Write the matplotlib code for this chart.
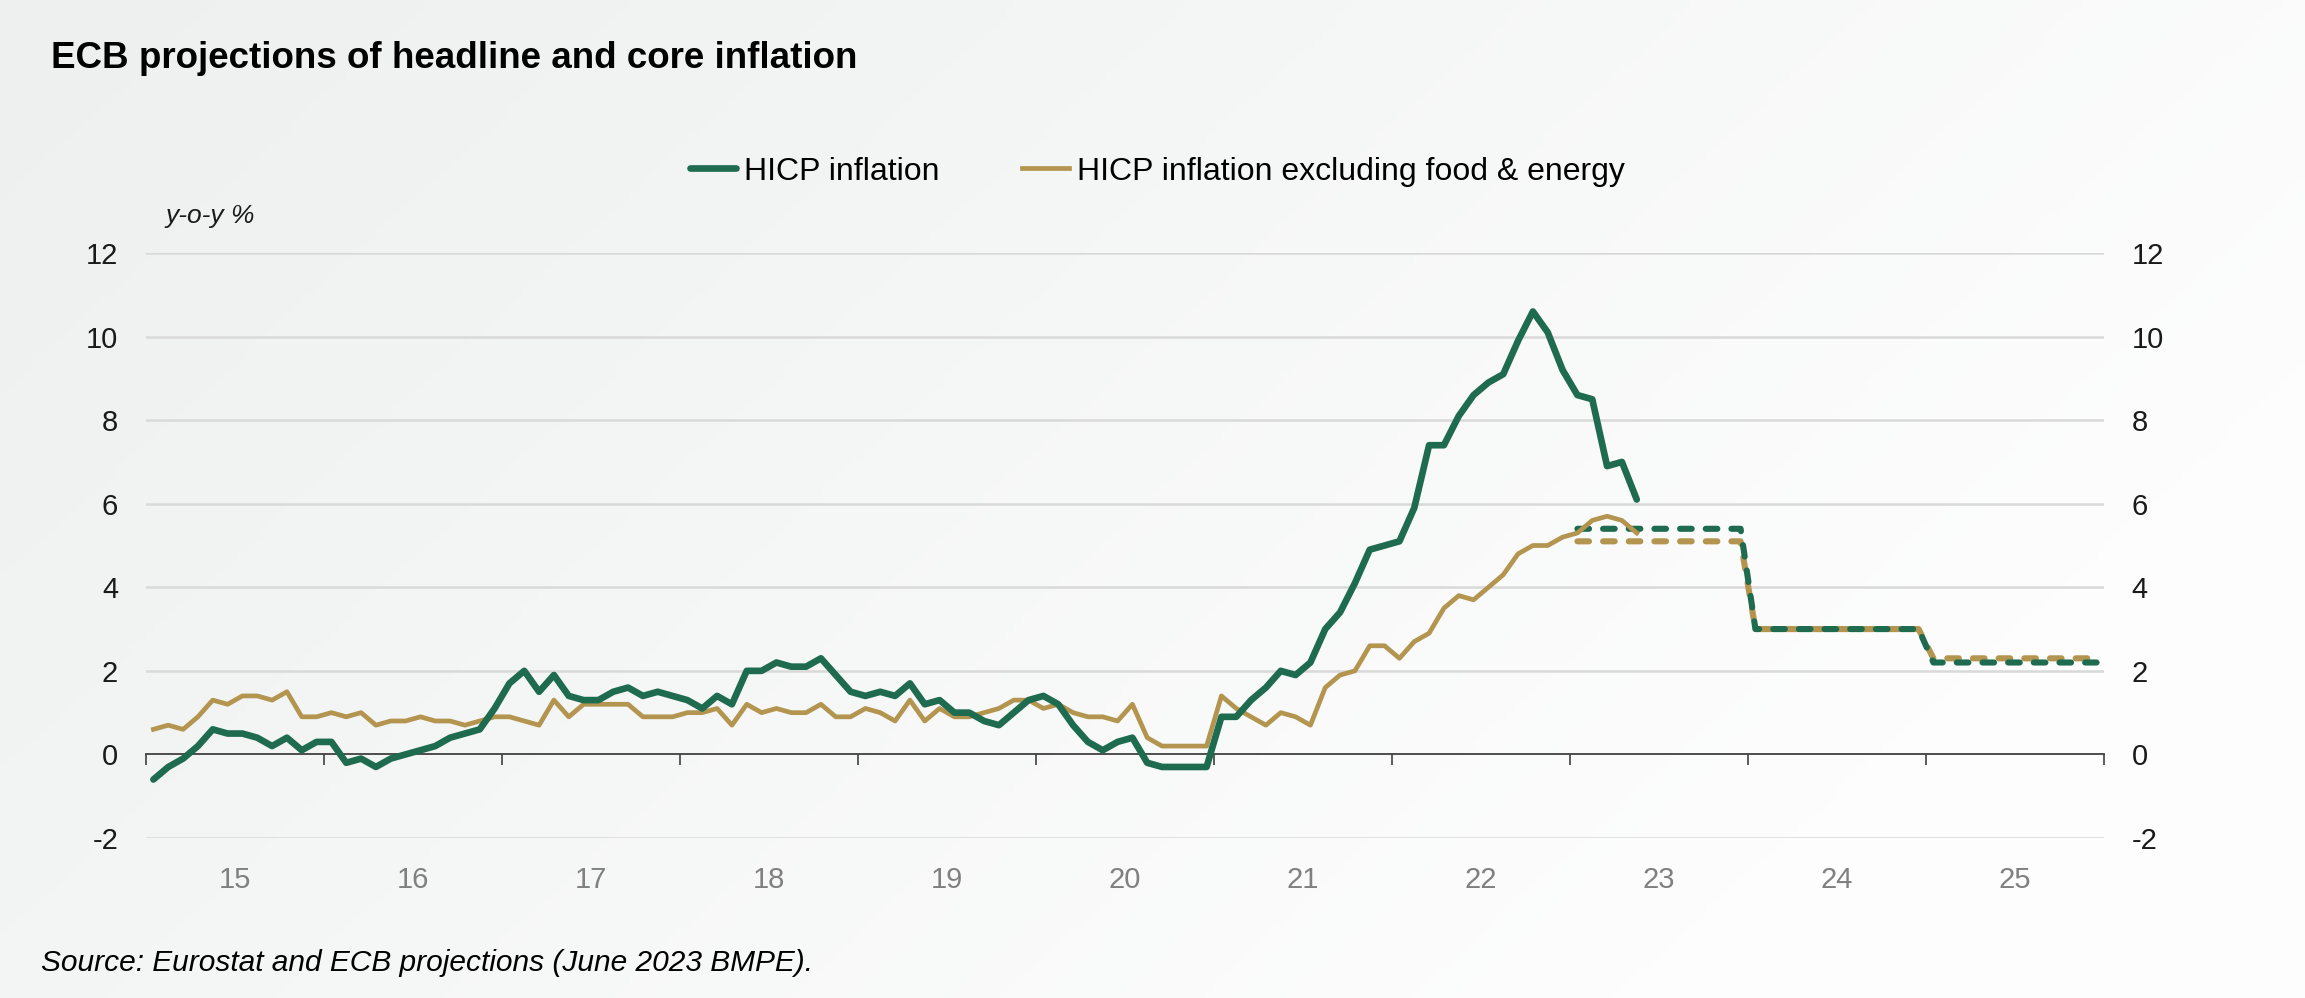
import numpy as np
import matplotlib.pyplot as plt
from matplotlib.colors import LinearSegmentedColormap

plt.rcParams['font.family'] = ['Liberation Sans', 'DejaVu Sans']
plt.rcParams['axes.unicode_minus'] = False

# monthly y-o-y %, Jan 2015 .. May 2023
hicp = [
    -0.6, -0.3, -0.1, 0.2, 0.6, 0.5, 0.5, 0.4, 0.2, 0.4, 0.1, 0.3,
    0.3, -0.2, -0.1, -0.3, -0.1, 0.0, 0.1, 0.2, 0.4, 0.5, 0.6, 1.1,
    1.7, 2.0, 1.5, 1.9, 1.4, 1.3, 1.3, 1.5, 1.6, 1.4, 1.5, 1.4,
    1.3, 1.1, 1.4, 1.2, 2.0, 2.0, 2.2, 2.1, 2.1, 2.3, 1.9, 1.5,
    1.4, 1.5, 1.4, 1.7, 1.2, 1.3, 1.0, 1.0, 0.8, 0.7, 1.0, 1.3,
    1.4, 1.2, 0.7, 0.3, 0.1, 0.3, 0.4, -0.2, -0.3, -0.3, -0.3, -0.3,
    0.9, 0.9, 1.3, 1.6, 2.0, 1.9, 2.2, 3.0, 3.4, 4.1, 4.9, 5.0,
    5.1, 5.9, 7.4, 7.4, 8.1, 8.6, 8.9, 9.1, 9.9, 10.6, 10.1, 9.2,
    8.6, 8.5, 6.9, 7.0, 6.1,
]
core = [
    0.6, 0.7, 0.6, 0.9, 1.3, 1.2, 1.4, 1.4, 1.3, 1.5, 0.9, 0.9,
    1.0, 0.9, 1.0, 0.7, 0.8, 0.8, 0.9, 0.8, 0.8, 0.7, 0.8, 0.9,
    0.9, 0.8, 0.7, 1.3, 0.9, 1.2, 1.2, 1.2, 1.2, 0.9, 0.9, 0.9,
    1.0, 1.0, 1.1, 0.7, 1.2, 1.0, 1.1, 1.0, 1.0, 1.2, 0.9, 0.9,
    1.1, 1.0, 0.8, 1.3, 0.8, 1.1, 0.9, 0.9, 1.0, 1.1, 1.3, 1.3,
    1.1, 1.2, 1.0, 0.9, 0.9, 0.8, 1.2, 0.4, 0.2, 0.2, 0.2, 0.2,
    1.4, 1.1, 0.9, 0.7, 1.0, 0.9, 0.7, 1.6, 1.9, 2.0, 2.6, 2.6,
    2.3, 2.7, 2.9, 3.5, 3.8, 3.7, 4.0, 4.3, 4.8, 5.0, 5.0, 5.2,
    5.3, 5.6, 5.7, 5.6, 5.3,
]

# June 2023 BMPE annual projections
proj_years = [2023, 2024, 2025]
proj_hicp = [5.4, 3.0, 2.2]
proj_core = [5.1, 3.0, 2.3]

year_labels = ['15', '16', '17', '18', '19', '20', '21', '22', '23', '24', '25']

GREEN = '#1e6b50'
GOLD = '#b39550'

x_hist = 2015 + (np.arange(len(hicp)) + 0.5) / 12
# projections shown as flat monthly lines through each year
x_proj = proj_years[0] + (np.arange(12 * len(proj_years)) + 0.5) / 12
y_proj_hicp = np.repeat(proj_hicp, 12)
y_proj_core = np.repeat(proj_core, 12)

fig = plt.figure(figsize=(23.05, 9.98), dpi=100)

# soft grey-to-white background
bg = fig.add_axes([0, 0, 1, 1], zorder=-10)
xx, yy = np.meshgrid(np.linspace(0, 1, 300), np.linspace(0, 1, 150))
grad = np.clip(0.85 * xx + 0.4 * yy, 0, 1)
cmap = LinearSegmentedColormap.from_list('bg', ['#edf0ef', '#fdfdfd'])
bg.imshow(grad, cmap=cmap, aspect='auto', extent=[0, 1, 0, 1], origin='upper')
bg.axis('off')

ax = fig.add_axes([146 / 2305, 1 - 838 / 998, (2104 - 146) / 2305, (838 - 253) / 998])
ax.set_facecolor('none')
ax.set_xlim(2015, 2026)
ax.set_ylim(-2, 12)

for v in [-2, 2, 4, 6, 8, 10, 12]:
    ax.axhline(v, color='#d9d9d9', lw=1.8, zorder=1)

ax.plot(x_proj, y_proj_core, color=GOLD, lw=4.4, dashes=(1.9, 2.3), dash_capstyle='round',
        zorder=3)
ax.plot(x_proj, y_proj_hicp, color=GREEN, lw=4.4, dashes=(1.9, 2.3), dash_capstyle='round',
        zorder=4)
ax.plot(x_hist, core, color=GOLD, lw=3.4, zorder=5,
        label='HICP inflation excluding food & energy')
ax.plot(x_hist, hicp, color=GREEN, lw=4.8, zorder=6, solid_capstyle='round',
        label='HICP inflation')

for s in ['top', 'left', 'right']:
    ax.spines[s].set_visible(False)
ax.spines['bottom'].set_position(('data', 0))
ax.spines['bottom'].set_color('#404040')
ax.spines['bottom'].set_linewidth(1.3)
ax.spines['bottom'].set_zorder(2)

ax.set_xticks(np.arange(2015, 2027))
ax.set_xticklabels([])
ax.tick_params(axis='x', which='major', direction='out', length=8, width=1.2, color='#404040')
ax.set_xticks(np.arange(2015, 2026) + 0.5, minor=True)
ax.set_xticklabels(year_labels, minor=True)
ax.tick_params(axis='x', which='minor', length=0, pad=80, labelsize=21, labelcolor='#808080')

ax.set_yticks(range(-2, 13, 2))
ax.tick_params(axis='y', length=0, pad=20, labelsize=21, labelcolor='#1a1a1a')

ax2 = ax.twinx()
ax2.set_ylim(-2, 12)
ax2.set_yticks(range(-2, 13, 2))
ax2.tick_params(axis='y', length=0, pad=20, labelsize=21, labelcolor='#1a1a1a')
for s in ax2.spines.values():
    s.set_visible(False)

handles, labels = ax.get_legend_handles_labels()
fig.legend(handles[::-1], labels[::-1], loc='center', bbox_to_anchor=(0.502, 0.828), ncol=2,
           frameon=False, fontsize=23, handlelength=1.45, handletextpad=0.25, columnspacing=2.6)

fig.text(165 / 2305, 1 - 216 / 998, 'y-o-y %', fontsize=19, style='italic', va='center',
         color='#1a1a1a')
fig.text(51 / 2305, 1 - 58 / 998, 'ECB projections of headline and core inflation',
         fontsize=26.5, fontweight='bold', va='center')
fig.text(41 / 2305, 1 - 963 / 998, 'Source: Eurostat and ECB projections (June 2023 BMPE).',
         fontsize=21.5, style='italic', va='center')

fig.savefig('out.png', dpi=100)
